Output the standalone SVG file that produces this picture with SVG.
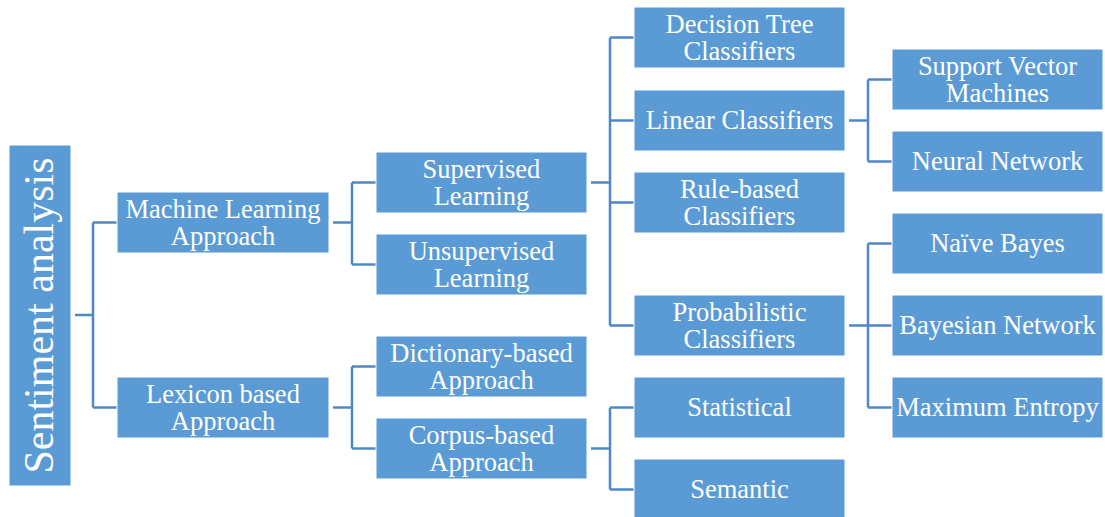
<svg xmlns="http://www.w3.org/2000/svg" width="1105" height="517" viewBox="0 0 1105 517">
<style>
.box{fill:#5b9bd5;stroke:#ffffff;stroke-width:1}
.t{font-family:"Liberation Serif","Times New Roman",serif;font-size:26.5px;fill:#ffffff;text-anchor:middle}
.root{font-family:"Liberation Serif","Times New Roman",serif;font-size:42px;fill:#ffffff;text-anchor:middle}
.c{fill:none;stroke:#4f88c6;stroke-width:2.5}
</style>
<rect width="1105" height="517" fill="#ffffff"/>
<g id="connectors">
<path class="c" d="M75 315H93M93 222.5V407.5M93 222.5H117M93 407.5H117"/>
<path class="c" d="M333 222.5H352M352 182.5V264.5M352 182.5H376M352 264.5H376"/>
<path class="c" d="M333 407.5H352M352 366.5V448.5M352 366.5H376M352 448.5H376"/>
<path class="c" d="M591 182.5H610M610 37.5V325.5M610 37.5H634M610 120.5H634M610 202.5H634M610 325.5H634"/>
<path class="c" d="M591 448.5H610M610 407.5V489.5M610 407.5H634M610 489.5H634"/>
<path class="c" d="M849 120.5H868M868 79.5V161.5M868 79.5H892M868 161.5H892"/>
<path class="c" d="M849 325.5H868M868 243.5V407.5M868 243.5H892M868 325.5H892M868 407.5H892"/>
</g>
<g id="root"><rect class="box" x="9" y="145" width="62" height="341"/><text class="root" transform="translate(53 315.5) rotate(-90)">Sentiment analysis</text></g>
<g id="ml"><rect class="box" x="117" y="192" width="212" height="61"/><text class="t" x="223" y="218">Machine Learning</text><text class="t" x="223" y="245">Approach</text></g>
<g id="lex"><rect class="box" x="117" y="377" width="212" height="61"/><text class="t" x="223" y="403">Lexicon based</text><text class="t" x="223" y="430">Approach</text></g>
<g id="sup"><rect class="box" x="376" y="152" width="211" height="61"/><text class="t" x="481.5" y="178">Supervised</text><text class="t" x="481.5" y="205">Learning</text></g>
<g id="unsup"><rect class="box" x="376" y="234" width="211" height="61"/><text class="t" x="481.5" y="260">Unsupervised</text><text class="t" x="481.5" y="287">Learning</text></g>
<g id="dict"><rect class="box" x="376" y="336" width="211" height="61"/><text class="t" x="481.5" y="362">Dictionary-based</text><text class="t" x="481.5" y="389">Approach</text></g>
<g id="corpus"><rect class="box" x="376" y="418" width="211" height="61"/><text class="t" x="481.5" y="444">Corpus-based</text><text class="t" x="481.5" y="471">Approach</text></g>
<g id="dt"><rect class="box" x="634" y="7" width="211" height="61"/><text class="t" x="739.5" y="33">Decision Tree</text><text class="t" x="739.5" y="60">Classifiers</text></g>
<g id="linear"><rect class="box" x="634" y="90" width="211" height="61"/><text class="t" x="739.5" y="129">Linear Classifiers</text></g>
<g id="rule"><rect class="box" x="634" y="172" width="211" height="61"/><text class="t" x="739.5" y="198">Rule-based</text><text class="t" x="739.5" y="225">Classifiers</text></g>
<g id="prob"><rect class="box" x="634" y="295" width="211" height="61"/><text class="t" x="739.5" y="321">Probabilistic</text><text class="t" x="739.5" y="348">Classifiers</text></g>
<g id="stat"><rect class="box" x="634" y="377" width="211" height="61"/><text class="t" x="739.5" y="416">Statistical</text></g>
<g id="sem"><rect class="box" x="634" y="459" width="211" height="61"/><text class="t" x="739.5" y="498">Semantic</text></g>
<g id="svm"><rect class="box" x="892" y="49" width="211" height="61"/><text class="t" x="997.5" y="75">Support Vector</text><text class="t" x="997.5" y="102">Machines</text></g>
<g id="nn"><rect class="box" x="892" y="131" width="211" height="61"/><text class="t" x="997.5" y="170">Neural Network</text></g>
<g id="nb"><rect class="box" x="892" y="213" width="211" height="61"/><text class="t" x="997.5" y="252">Naïve Bayes</text></g>
<g id="bn"><rect class="box" x="892" y="295" width="211" height="61"/><text class="t" x="997.5" y="334">Bayesian Network</text></g>
<g id="me"><rect class="box" x="892" y="377" width="211" height="61"/><text class="t" x="997.5" y="416">Maximum Entropy</text></g>
</svg>
